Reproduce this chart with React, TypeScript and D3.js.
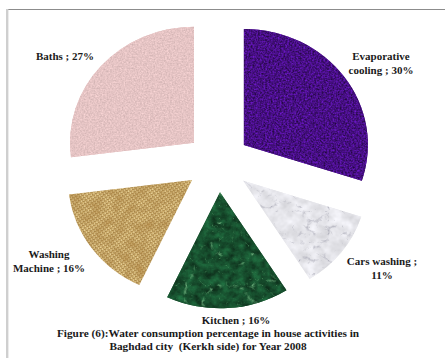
import React from "react";
import * as d3 from "d3";

// Household water use, Baghdad (Kerkh side), 2008
const categories = ["Evaporative cooling", "Cars washing", "Kitchen", "Washing Machine", "Baths"];
const shares = [30, 11, 16, 16, 27];
// number of words on the first label line (0 = single line)
const labelBreaks = [1, 3, 0, 1, 0];
const titleLines = [
  "Figure (6):Water consumption percentage in house activities in",
  "Baghdad city  (Kerkh side) for Year 2008",
];

const W = 445;
const H = 358;
const cx = 218;
const cy = 162.5;
const R = 124;
const explode = 32;
const squash = 0.935;

type RGB = [number, number, number];

const baseMatrix = (c: RGB, s: number, a = "0 0 0 0 1") => {
  const row = (v: number) => `${2 * s * v} 0 0 0 ${v - s * v}`;
  return `${row(c[0])} ${row(c[1])} ${row(c[2])} ${a}`;
};
const veinMatrix = (c: RGB, k: number, b: number) =>
  `0 0 0 0 ${c[0]} 0 0 0 0 ${c[1]} 0 0 0 0 ${c[2]} ${-k} 0 0 0 ${b}`;

type Vein = { freq: number; oct: number; seed: number; color: RGB; k: number; b: number };
type Tex = {
  id: string;
  freq: number;
  oct: number;
  seed: number;
  color: RGB;
  contrast: number;
  alphaRow?: string;
  veins?: Vein[];
};

const textures: Tex[] = [
  {
    id: "texEvap", freq: 0.55, oct: 3, seed: 3, color: [0.28, 0.06, 0.52], contrast: 0.75,
    veins: [{ freq: 0.09, oct: 3, seed: 8, color: [0.16, 0.02, 0.34], k: 5, b: 0.55 }],
  },
  {
    id: "texCars", freq: 0.08, oct: 3, seed: 7, color: [0.9, 0.9, 0.92], contrast: 0.12,
    veins: [
      { freq: 0.035, oct: 4, seed: 11, color: [0.66, 0.66, 0.71], k: 5, b: 0.75 },
      { freq: 0.06, oct: 3, seed: 21, color: [0.74, 0.74, 0.78], k: 6, b: 0.6 },
    ],
  },
  {
    id: "texKitchen", freq: 0.12, oct: 4, seed: 5, color: [0.09, 0.31, 0.18], contrast: 0.6,
    veins: [
      { freq: 0.03, oct: 4, seed: 2, color: [0.42, 0.68, 0.48], k: 6, b: 0.9 },
      { freq: 0.07, oct: 3, seed: 17, color: [0.28, 0.54, 0.35], k: 7, b: 0.7 },
    ],
  },
  {
    id: "texWash", freq: 0.09, oct: 3, seed: 9, color: [0.6, 0.45, 0.22], contrast: 0.2,
    alphaRow: "1.2 0 0 0 -0.45",
  },
  {
    id: "texBaths", freq: 0.6, oct: 3, seed: 13, color: [0.9, 0.77, 0.77], contrast: 0.12,
    veins: [{ freq: 0.045, oct: 3, seed: 4, color: [0.78, 0.63, 0.65], k: 5, b: 0.3 }],
  },
];

const baseFills = ["#4b1288", "#e6e6ea", "#1d5a33", "url(#burlap)", "#e6c2c2"];

// label anchor points (centre of the text block, first baseline)
const labelAnchors: [number, number][] = [
  [381, 60],
  [382, 265],
  [236, 324],
  [49, 258],
  [65, 60],
];

function labelLines(i: number): string[] {
  const full = `${categories[i]} ; ${shares[i]}%`;
  const words = full.split(" ");
  const b = labelBreaks[i];
  if (!b) return [full];
  return [words.slice(0, b).join(" "), words.slice(b).join(" ")];
}

export default function App() {
  const arcs = d3.pie<number>().sort(null).value((d) => d)(shares);
  const arcGen = d3.arc<d3.PieArcDatum<number>>().innerRadius(0).outerRadius(R);
  const font = "'Liberation Serif', 'Times New Roman', serif";

  return (
    <svg
      width={W}
      height={H}
      style={{ position: "absolute", left: 0, top: 0, background: "#fff" }}
    >
      <defs>
        <pattern id="burlap" width={3} height={3} patternUnits="userSpaceOnUse" patternTransform="rotate(-35)">
          <rect width={3} height={3} fill="#cdaa66" />
          <rect x={0} y={0} width={2} height={1} fill="#e6cf96" />
          <rect x={2} y={0} width={1} height={2} fill="#a8864a" />
          <rect x={1} y={2} width={2} height={1} fill="#dcc080" />
          <rect x={0} y={1} width={1} height={2} fill="#b39052" />
        </pattern>
        {textures.map((t) => (
          <filter
            key={t.id}
            id={t.id}
            x="-5%"
            y="-5%"
            width="110%"
            height="110%"
            colorInterpolationFilters="sRGB"
          >
            <feTurbulence type="fractalNoise" baseFrequency={t.freq} numOctaves={t.oct} seed={t.seed} result="n" />
            <feColorMatrix in="n" type="matrix" values={baseMatrix(t.color, t.contrast, t.alphaRow)} result="L0" />
            {(t.veins || []).map((v, k) => (
              <React.Fragment key={k}>
                <feTurbulence type="turbulence" baseFrequency={v.freq} numOctaves={v.oct} seed={v.seed} result={`t${k}`} />
                <feColorMatrix in={`t${k}`} type="matrix" values={veinMatrix(v.color, v.k, v.b)} result={`v${k}`} />
                <feComposite in={`v${k}`} in2={`L${k}`} operator="over" result={`L${k + 1}`} />
              </React.Fragment>
            ))}
            <feComposite in={`L${(t.veins || []).length}`} in2="SourceGraphic" operator="in" />
          </filter>
        ))}
      </defs>

      {/* frame */}
      <line x1={6} y1={9.5} x2={W} y2={9.5} stroke="#8c8c8c" strokeWidth={1} />
      <line x1={7.2} y1={9} x2={7.2} y2={H} stroke="#cfcfcf" strokeWidth={2.4} />

      <g transform={`translate(${cx},${cy}) scale(1,${squash})`}>
        {arcs.map((a, i) => {
          const mid = (a.startAngle + a.endAngle) / 2;
          const ox = explode * Math.sin(mid);
          const oy = -explode * Math.cos(mid);
          const d = arcGen(a) || "";
          return (
            <g key={categories[i]} transform={`translate(${ox},${oy})`}>
              <path d={d} fill={baseFills[i]} />
              <path d={d} fill="#000" filter={`url(#${textures[i].id})`} />
            </g>
          );
        })}
      </g>

      {arcs.map((a, i) => {
        const [lx, ly] = labelAnchors[i];
        return (
          <text
            key={`lab-${i}`}
            x={lx}
            y={ly}
            textAnchor="middle"
            fontFamily={font}
            fontWeight="bold"
            fontSize={11}
            fill="#1a1a1a"
          >
            {labelLines(i).map((ln, j) => (
              <tspan key={j} x={lx} dy={j === 0 ? 0 : 13.5}>
                {ln}
              </tspan>
            ))}
          </text>
        );
      })}

      <text
        x={206}
        y={337}
        textAnchor="middle"
        fontFamily={font}
        fontWeight="bold"
        fontSize={11.3}
        fill="#1a1a1a"
        style={{ whiteSpace: "pre" }}
      >
        {titleLines.map((ln, j) => (
          <tspan key={j} x={208} dy={j === 0 ? 0 : 13.3}>
            {ln}
          </tspan>
        ))}
      </text>
    </svg>
  );
}
